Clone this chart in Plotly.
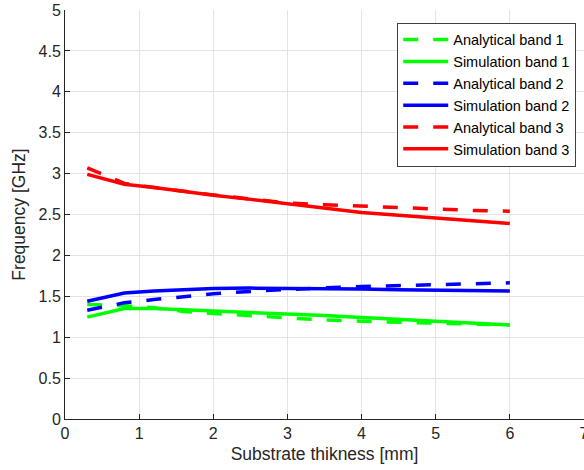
import plotly.graph_objects as go

# Substrate thickness samples [mm]
thickness = [0.3, 0.8, 1.2, 1.6, 2.0, 2.5, 3.0, 3.5, 4.0, 4.5, 5.0, 5.5, 6.0]

# Band frequencies [GHz]
analytical_band1 = [1.40, 1.385, 1.36, 1.315, 1.29, 1.26, 1.23, 1.21, 1.195, 1.18, 1.17, 1.16, 1.15]
simulation_band1 = [1.245, 1.35, 1.35, 1.335, 1.32, 1.305, 1.29, 1.265, 1.24, 1.22, 1.20, 1.175, 1.15]
analytical_band2 = [1.33, 1.42, 1.46, 1.50, 1.53, 1.56, 1.585, 1.605, 1.62, 1.63, 1.64, 1.655, 1.665]
simulation_band2 = [1.44, 1.54, 1.565, 1.585, 1.595, 1.60, 1.60, 1.595, 1.59, 1.58, 1.575, 1.57, 1.565]
analytical_band3 = [3.07, 2.88, 2.83, 2.78, 2.74, 2.69, 2.64, 2.62, 2.60, 2.585, 2.57, 2.55, 2.54]
simulation_band3 = [2.99, 2.87, 2.83, 2.78, 2.735, 2.685, 2.63, 2.575, 2.525, 2.49, 2.455, 2.42, 2.39]

series = [
    ("Analytical band 1", analytical_band1, "#00ff00", "15px,15px"),
    ("Simulation band 1", simulation_band1, "#00ff00", "solid"),
    ("Analytical band 2", analytical_band2, "#0000ff", "15px,15px"),
    ("Simulation band 2", simulation_band2, "#0000ff", "solid"),
    ("Analytical band 3", analytical_band3, "#ff0000", "15px,15px"),
    ("Simulation band 3", simulation_band3, "#ff0000", "solid"),
]

fig = go.Figure()
for name, values, color, dash in series:
    fig.add_trace(go.Scatter(
        x=thickness, y=values, mode="lines", name=name,
        line=dict(color=color, width=3.5, dash=dash),
    ))

axis_color = "#262626"
grid_color = "#e3e3e3"
font_family = "Liberation Sans, Arial, sans-serif"

fig.update_layout(
    width=584, height=470,
    margin=dict(l=65, r=0, t=10, b=51),
    paper_bgcolor="white", plot_bgcolor="white",
    font=dict(family=font_family, color=axis_color, size=16),
    showlegend=True,
    legend=dict(
        x=0.985, y=0.969, xanchor="right", yanchor="top",
        bgcolor="white", bordercolor="#404040", borderwidth=1,
        font=dict(size=14.5, family=font_family, color="black"),
        itemwidth=45, tracegroupgap=0,
    ),
)
fig.update_xaxes(
    range=[0, 7], tickmode="linear", tick0=0, dtick=1,
    showline=True, linecolor=axis_color, linewidth=1,
    ticks="inside", ticklen=5, tickcolor=axis_color,
    ticklabeloverflow="allow", automargin=False,
    showgrid=True, gridcolor=grid_color, gridwidth=1, zeroline=False,
    title=dict(text="Substrate thikness [mm]", font=dict(size=17.5), standoff=6),
)
fig.update_yaxes(
    range=[0, 5], tickmode="linear", tick0=0, dtick=0.5,
    showline=True, linecolor=axis_color, linewidth=1,
    ticks="inside", ticklen=5, tickcolor=axis_color,
    ticklabeloverflow="allow", automargin=False,
    showgrid=True, gridcolor=grid_color, gridwidth=1, zeroline=False,
    title=dict(text="Frequency [GHz]", font=dict(size=17.5), standoff=8),
)

fig.write_html("out.html")
